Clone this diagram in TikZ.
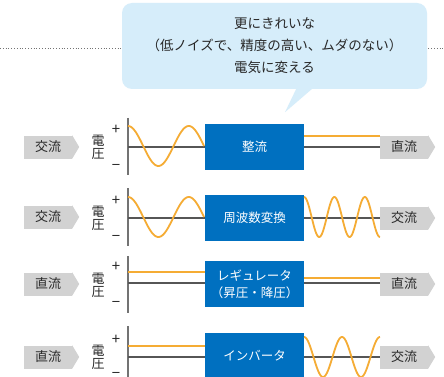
\documentclass[tikz,border=0pt]{standalone}
\usepackage{fontspec}
\setmainfont{Noto Sans CJK JP}
\usetikzlibrary{calc}
\definecolor{boxblue}{RGB}{0,112,192}
\definecolor{wave}{RGB}{245,172,52}
\definecolor{lblgray}{RGB}{210,210,210}
\definecolor{calloutblue}{RGB}{214,237,250}
\definecolor{axisgray}{RGB}{115,115,115}
\definecolor{txt}{RGB}{40,40,40}
\tikzset{
  conv/.style={fill=boxblue, text=white, minimum width=99pt, minimum height=46pt, inner sep=0pt, align=center, font=\fontsize{12.5}{17}\selectfont},
  lbl/.style={fill=lblgray, text=txt, minimum width=48pt, minimum height=23pt, inner sep=0pt, font=\fontsize{13}{15}\selectfont},
  vlbl/.style={text=txt, inner sep=0pt, align=center, font=\fontsize{13}{13}\selectfont},
  sgn/.style={text=txt, inner sep=0pt, font=\fontsize{15}{15}\selectfont},
  wavel/.style={draw=wave, line width=1.8pt},
  axisv/.style={draw=axisgray, line width=1.8pt},
  axish/.style={draw=axisgray!75!black, line width=1.3pt},
}
\newcommand{\arrowtip}[1]{\fill[lblgray] (#1.north east) -- ($(#1.east)+(7,0)$) -- (#1.south east) -- cycle;}
\begin{document}
\begin{tikzpicture}[x=1pt,y=-1pt]
\clip (0,0) rectangle (444,377);
\fill[white] (0,0) rectangle (444,377);
% dotted line and callout
\coordinate (dl) at (0,48);
\coordinate (dr) at (444,48);
\draw[axisgray, dotted, line width=0.8pt] (dl) -- (dr);
\node[fill=calloutblue, rounded corners=10pt, minimum width=305pt, minimum height=86pt, inner sep=0pt, align=center, text=txt, font=\fontsize{13.5}{22}\selectfont] (note) at (274.5,46) {更にきれいな\\（低ノイズで、精度の高い、ムダのない）\\電気に変える};
\coordinate (tA) at ($(note.south)+(22.5,-2)$);
\coordinate (tB) at ($(note.south)+(39.5,-2)$);
\coordinate (tC) at ($(note.south)+(10.5,23)$);
\fill[calloutblue] (tA) -- (tC) -- (tB) -- cycle;

% ---------- Row 1 ----------
\node[lbl] (in1) at (48,147) {交流}; \arrowtip{in1}
\node[vlbl] (v1) at (98,147) {電\\圧};
\node[sgn] (p1) at (116,130) {+};
\node[sgn] (m1) at (116,167) {−};
\coordinate (t1) at (128,118); \coordinate (b1) at (128,175);
\draw[axisv] (t1) -- (b1);
\node[conv] (c1) at (254.5,147) {整流};
\coordinate (o1) at (128,147);
\draw[axish] (o1) -- (c1.west);
\draw[wavel] plot[domain=0:76,samples=90] ({\x+128},{146-20*cos(\x/60.8*360)});
\node[lbl] (out1) at (404,147) {直流}; \arrowtip{out1}
\draw[axish] (c1.east) -- (out1.west);
\draw[wavel] ($(c1.east)+(0,-11)$) -- ($(out1.west)+(0,-11)$);

% ---------- Row 2 ----------
\node[lbl] (in2) at (48,217) {交流}; \arrowtip{in2}
\node[vlbl] (v2) at (98,218) {電\\圧};
\node[sgn] (p2) at (116,201) {+};
\node[sgn] (m2) at (116,238) {−};
\coordinate (t2) at (128,188); \coordinate (b2) at (128,246);
\draw[axisv] (t2) -- (b2);
\node[conv] (c2) at (254.5,218) {周波数変換};
\coordinate (o2) at (128,218);
\draw[axish] (o2) -- (c2.west);
\draw[wavel] plot[domain=0:76,samples=90] ({\x+128},{217-20*cos(\x/60.8*360)});
\node[lbl] (out2) at (404,218) {交流}; \arrowtip{out2}
\draw[axish] (c2.east) -- (out2.west);
\draw[wavel] plot[domain=0:76,samples=120] ({\x+304},{217-20*cos(\x/30.4*360)});

% ---------- Row 3 ----------
\node[lbl] (in3) at (48,284) {直流}; \arrowtip{in3}
\node[vlbl] (v3) at (98,285) {電\\圧};
\node[sgn] (p3) at (116,267) {+};
\node[sgn] (m3) at (116,304) {−};
\coordinate (t3) at (128,256); \coordinate (b3) at (128,313);
\draw[axisv] (t3) -- (b3);
\node[conv] (c3) at (254.5,284) {レギュレータ\\（昇圧・降圧）};
\coordinate (o3) at (128,283);
\coordinate (o3w) at (128,272);
\draw[axish] (o3) -- (o3 -| c3.west);
\draw[wavel] (o3w) -- (o3w -| c3.west);
\node[lbl] (out3) at (404,284) {直流}; \arrowtip{out3}
\draw[axish] (c3.east |- o3) -- (out3.west |- o3);
\draw[wavel] ($(c3.east |- o3)+(0,-5)$) -- ($(out3.west |- o3)+(0,-5)$);

% ---------- Row 4 ----------
\node[lbl] (in4) at (48,357) {直流}; \arrowtip{in4}
\node[vlbl] (v4) at (98,357) {電\\圧};
\node[sgn] (p4) at (116,340) {+};
\node[sgn] (m4) at (116,375) {−};
\coordinate (t4) at (128,326); \coordinate (b4) at (128,384);
\draw[axisv] (t4) -- (b4);
\node[conv] (c4) at (254.5,356) {インバータ};
\coordinate (o4) at (128,357);
\coordinate (o4w) at (128,346);
\draw[axish] (o4) -- (o4 -| c4.west);
\draw[wavel] (o4w) -- (o4w -| c4.west);
\node[lbl] (out4) at (404,357) {交流}; \arrowtip{out4}
\draw[axish] (c4.east |- o4) -- (out4.west |- o4);
\draw[wavel] plot[domain=0:76,samples=120] ({\x+304},{357-20*cos(\x/38*360)});
\end{tikzpicture}
\end{document}
